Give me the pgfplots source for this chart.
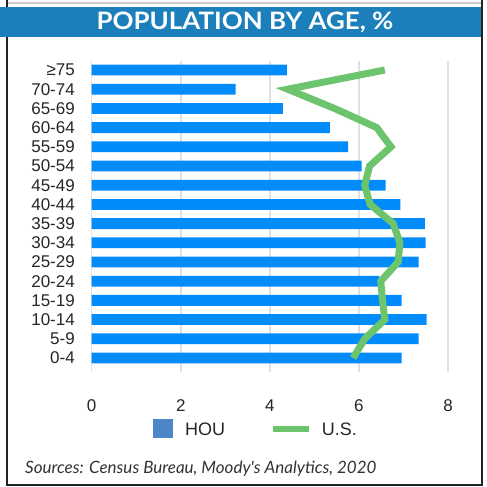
\documentclass[border=0pt]{standalone}
\usepackage{fontspec}
\setmainfont{Liberation Sans}
\newfontfamily\titlefont{Lato}
\usepackage{pgfplots}
\pgfplotsset{compat=1.18}
\definecolor{band}{RGB}{26,127,187}
\definecolor{barblue}{RGB}{2,139,250}
\definecolor{legblue}{RGB}{74,134,200}
\definecolor{usgreen}{RGB}{108,196,108}
\definecolor{gridgray}{RGB}{224,224,224}
\definecolor{framec}{RGB}{34,34,34}
\begin{document}
\begin{tikzpicture}[x=1pt,y=1pt]
\useasboundingbox (0,0) rectangle (487,487);
\fill[white] (0,0) rectangle (487,487);
% frame
\draw[line width=2pt, gray!40] (7,484) -- (482,484);
\draw[line width=2pt, framec] (7,487) -- (7,1) (482,487) -- (482,1) (6,2) -- (483,2);
% title band
\fill[band] (0,450.3) rectangle (481,479.7);
\node[text=white, font=\titlefont\bfseries\fontsize{24}{26}\selectfont, xscale=1.08] at (245,465) {POPULATION BY AGE, \%};
\begin{axis}[
  at={(91.7pt,115pt)}, anchor=south west,
  scale only axis, width=356.3pt, height=311pt,
  xmin=0, xmax=8, ymin=-0.73, ymax=15.47,
  axis line style={draw=none},
  xtick={0,2,4,6,8}, ytick={0,...,15},
  yticklabels={0-4,5-9,10-14,15-19,20-24,25-29,30-34,35-39,40-44,45-49,50-54,55-59,60-64,65-69,70-74,≥75},
  xmajorgrids, grid style={gridgray, line width=1.5pt},
  major tick length=0pt, tick style={draw=none},
  tick label style={font=\fontsize{17}{20}\selectfont, text=black!85},
  /pgf/number format/assume math mode=true,
  yticklabel style={anchor=east, inner sep=0pt, xshift=-16.7pt},
  xticklabel style={anchor=center, yshift=-33.5pt},
  clip=false,
]
\addplot[xbar, bar width=10.8pt, fill=barblue, draw=none] coordinates {
(6.96,0) (7.34,1) (7.52,2) (6.96,3) (6.46,4) (7.34,5) (7.50,6) (7.48,7)
(6.93,8) (6.60,9) (6.06,10) (5.76,11) (5.35,12) (4.29,13) (3.23,14) (4.38,15)};
\addplot[usgreen, line width=7pt, line join=miter, mark=none] coordinates {
(5.87,0) (6.13,1) (6.58,2) (6.53,3) (6.49,4) (6.88,5) (6.92,6) (6.77,7)
(6.25,8) (6.13,9) (6.24,10) (6.72,11) (6.40,12) (5.45,13) (4.40,14) (6.58,15)};
\end{axis}
% legend
\fill[legblue] (153.3,49) rectangle (172.7,68);
\node[anchor=base west, inner sep=0pt, font=\fontsize{18}{20}\selectfont, text=black!85] at (185,51.5) {HOU};
\draw[usgreen, line width=5.7pt] (273,58.3) -- (309,58.3);
\node[anchor=base west, inner sep=0pt, font=\fontsize{18}{20}\selectfont, text=black!85] at (321.7,51.5) {U.S.};
% source
\node[anchor=base west, inner sep=0pt, font=\titlefont\itshape\fontsize{17}{20}\selectfont, text=black!80] at (25,13) {Sources: Census Bureau, Moody's Analytics, 2020};
\end{tikzpicture}
\end{document}
